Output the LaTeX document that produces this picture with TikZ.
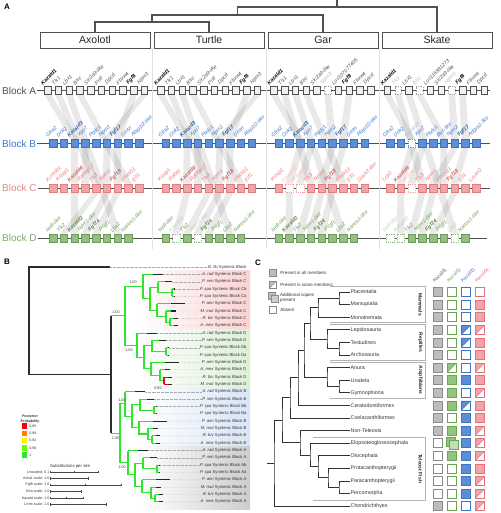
\documentclass[tikz,border=0pt]{standalone}
\usepackage{fontspec}
\setmainfont{Liberation Sans}
\pgfdeclarelayer{back}
\pgfdeclarelayer{mid}
\pgfsetlayers{back,mid,main}
\definecolor{dk}{HTML}{505050}
\definecolor{cB}{HTML}{5B8FD6}
\definecolor{cBd}{HTML}{3C70BE}
\definecolor{tB}{HTML}{3A78C9}
\definecolor{cC}{HTML}{F4A4A6}
\definecolor{cCd}{HTML}{E37C80}
\definecolor{tC}{HTML}{EE6E72}
\definecolor{lC}{HTML}{D98C8C}
\definecolor{cD}{HTML}{93BF80}
\definecolor{cDd}{HTML}{6B9B57}
\definecolor{tD}{HTML}{6A9A55}
\definecolor{lD}{HTML}{7FA86B}
\definecolor{lgreen}{HTML}{2EE62E}
\definecolor{bandC}{HTML}{FAD2D3}
\definecolor{bandD}{HTML}{DCF0D6}
\definecolor{bandB}{HTML}{D8E5F5}
\definecolor{bandA}{HTML}{CDCDCD}
\definecolor{kgray}{HTML}{BDBDBD}
\definecolor{kgrayd}{HTML}{8A8A8A}
\definecolor{kgreen}{HTML}{92C47E}
\definecolor{kgreend}{HTML}{6AA651}
\definecolor{kblue}{HTML}{5A8FD8}
\definecolor{kblued}{HTML}{3D76C6}
\definecolor{kred}{HTML}{F3A2A8}
\definecolor{kredd}{HTML}{E57179}
\tikzset{
  plab/.style={font=\fontsize{8}{9}\selectfont\bfseries, inner sep=0pt},
  sp/.style={draw=dk, fill=white, line width=0.9pt, minimum width=110pt, minimum height=16pt, inner sep=0pt, font=\fontsize{10.5}{12}\selectfont, text=black!85},
  tr/.style={draw=dk, line width=1.1pt},
  sepl/.style={draw=gray!25, line width=0.8pt},
  blk/.style={font=\fontsize{10}{12}\selectfont, anchor=west, inner sep=0pt},
  bline/.style={draw=dk, line width=0.8pt},
  gbox/.style={minimum width=7.5pt, minimum height=8.5pt, inner sep=0pt, line width=0.5pt},
  dsh/.style={dash pattern=on 1pt off 0.8pt},
  boxAn/.style={draw=dk, fill=gray!12, line width=0.55pt, minimum width=6.5pt, minimum height=7.5pt, inner sep=0pt},
  boxAb/.style={boxAn},
  boxAd/.style={boxAn, fill=white, draw=gray!75, dsh},
  boxBn/.style={gbox, fill=cB, draw=cBd}, boxBb/.style={boxBn}, boxBd/.style={gbox, fill=white, draw=cB, dsh},
  boxCn/.style={gbox, fill=cC, draw=cCd}, boxCb/.style={boxCn}, boxCd/.style={gbox, fill=white, draw=cC, dsh},
  boxDn/.style={gbox, fill=cD, draw=cDd}, boxDb/.style={boxDn}, boxDd/.style={gbox, fill=white, draw=cD, dsh},
  glab/.style={rotate=45, anchor=south west, inner sep=0.2pt, font=\fontsize{5.2}{6}\selectfont\itshape},
  gbold/.style={font=\fontsize{5.2}{6}\selectfont\itshape\bfseries},
  labAn/.style={glab, text=dk}, labAb/.style={glab, gbold, text=black}, labAd/.style={glab, text=gray!55},
  labBn/.style={glab, text=tB}, labBb/.style={glab, gbold, text=tB!80!black}, labBd/.style={glab, text=tB!45},
  labCn/.style={glab, text=tC}, labCb/.style={glab, gbold, text=tC!85!black}, labCd/.style={glab, text=tC!45},
  labDn/.style={glab, text=tD}, labDb/.style={glab, gbold, text=tD!85!black}, labDd/.style={glab, text=tD!45},
  ribbon/.style={fill=black, fill opacity=0.085},
  leaf/.style={anchor=east, inner sep=0.3pt, font=\fontsize{4.2}{5}\selectfont, text=black!80},
  pp/.style={inner sep=0pt, font=\fontsize{3.8}{4.5}\selectfont, text=black!75},
  dbr/.style={draw=gray!35!black, line width=1.1pt},
  gbr/.style={draw=lgreen, line width=1.1pt},
  tipbr/.style={draw=black!85, line width=1.1pt},
  leader/.style={draw=gray!65, line width=0.35pt, dash pattern=on 0.4pt off 0.9pt},
  smt/.style={inner sep=0.3pt, font=\fontsize{3.6}{4.3}\selectfont, text=black!80},
  sbar/.style={draw=gray!55!black, line width=0.5pt},
  ctr/.style={draw=gray!40!black, line width=0.9pt},
  tx/.style={anchor=west, inner sep=0.5pt, font=\fontsize{5.3}{6}\selectfont, text=black!80},
  hdr/.style={rotate=45, anchor=south west, inner sep=0.2pt, font=\fontsize{4.8}{5.5}\selectfont},
  grp/.style={rotate=-90, inner sep=0pt, font=\fontsize{5}{6}\selectfont\bfseries, text=black!85},
  gbx/.style={draw=gray!60, line width=0.7pt},
  lgt/.style={anchor=west, inner sep=0.3pt, font=\fontsize{4.5}{5.2}\selectfont, text=black!80, align=left},
  cellbase/.style={minimum size=9pt, inner sep=0pt, line width=0.7pt},
}
\newcommand\mkcells[3]{%
  \tikzset{
    cellF#1/.style={cellbase, fill=#2, draw=#3},
    cellE#1/.style={cellbase, fill=white, draw=#3},
    cellH#1/.style={cellbase, fill=white, draw=#3, path picture={%
      \fill[#2] (path picture bounding box.north west) -- (path picture bounding box.north east) -- (path picture bounding box.south west) -- cycle;
      \draw[#3, line width=0.5pt] (path picture bounding box.south west) -- (path picture bounding box.north east);}},
    cellD#1/.style={cellbase, fill=#2, draw=#3, xshift=-1.4pt, yshift=1.4pt},
  }}
\mkcells{1}{kgray}{kgrayd}
\mkcells{2}{kgreen}{kgreend}
\mkcells{3}{kblue}{kblued}
\mkcells{4}{kred}{kredd}
\newcommand\generow[5]{%
  \foreach [count=\k] \gn/\gs in {#5} {%
    \pgfmathsetmacro\xx{#3+(\k-1)*10.75}%
    \node[box#2\gs] (#1#2\k) at (\xx,#4) {};%
    \node[lab#2\gs] (#1#2l\k) at ([xshift=-1pt,yshift=0.8pt]#1#2\k.north west) {\gn};%
  }%
}
\newcommand\rib[1]{%
  \foreach \u/\v in {#1} {%
    \fill[ribbon] ([xshift=-3.3pt]\u.south) -- ([xshift=3.3pt]\u.south) -- ([xshift=3.8pt]\v.north) -- ([xshift=-3.8pt]\v.north) -- cycle;%
  }%
}
\newcommand\term[5]{%
  \draw[gbr, draw=#5] (#1,#2) -- ({#3},#2);
  \draw[tipbr] ({(#1+#3)/2},#2) -- ({#3},#2);
  \draw[leader] ({#3},#2) -- (l#4.west);
}
\newcommand\cladetree[3]{%
  \pgfmathsetmacro\ya{267+(#1-1)*7.34}
  \pgfmathsetmacro\yb{\ya+7.34}
  \pgfmathsetmacro\yc{\ya+14.68}
  \pgfmathsetmacro\yd{\ya+22.02}
  \pgfmathsetmacro\ye{\ya+29.36}
  \pgfmathsetmacro\yf{\ya+36.7}
  \pgfmathsetmacro\yg{\ya+44.04}
  \pgfmathsetmacro\yh{\ya+51.38}
  \pgfmathsetmacro\yP{(\yc+\yd)/2}
  \pgfmathsetmacro\yGa{(\yb+\yP)/2}
  \pgfmathsetmacro\yS{(\yg+\yh)/2}
  \pgfmathsetmacro\yQ{(\yf+\yS)/2}
  \pgfmathsetmacro\yGb{(\ye+\yQ)/2}
  \pgfmathsetmacro\yI{(\yGa+\yGb)/2}
  \pgfmathsetmacro\yR{(\ya+\yI)/2}
  \pgfmathsetmacro\xI{#2+7}
  \pgfmathsetmacro\xGa{\xI+8}
  \pgfmathsetmacro\xP{\xGa+14}
  \pgfmathsetmacro\xGb{\xI+7}
  \pgfmathsetmacro\xQ{\xGb+9}
  \pgfmathsetmacro\xS{\xQ+4}
  \pgfmathtruncatemacro\na{#1}
  \pgfmathtruncatemacro\nb{#1+1}
  \pgfmathtruncatemacro\nc{#1+2}
  \pgfmathtruncatemacro\nd{#1+3}
  \pgfmathtruncatemacro\ne{#1+4}
  \pgfmathtruncatemacro\nf{#1+5}
  \pgfmathtruncatemacro\ng{#1+6}
  \pgfmathtruncatemacro\nh{#1+7}
  \draw[gbr] (#2,\ya) -- (#2,\yI) -- (\xI,\yI);
  \draw[gbr] (\xGa,\yGa) -- (\xI,\yGa) -- (\xI,\yGb) -- (\xGb,\yGb);
  \draw[gbr] (\xGa,\yb) -- (\xGa,\yP) -- (\xP,\yP);
  \draw[gbr] (\xP,\yc) -- (\xP,\yd);
  \draw[gbr] (\xGb,\ye) -- (\xGb,\yQ) -- (\xQ,\yQ);
  \draw[gbr] (\xQ,\yf) -- (\xQ,\yS) -- (\xS,\yS);
  \draw[gbr, draw=#3] (\xS,\yg) -- (\xS,\yh);
  \term{#2}{\ya}{#2+20}{\na}{lgreen}
  \term{\xGa}{\yb}{\xP}{\nb}{lgreen}
  \term{\xP}{\yc}{\xP+3}{\nc}{lgreen}
  \term{\xP}{\yd}{\xP+3}{\nd}{lgreen}
  \term{\xGb}{\ye}{\xGb+28}{\ne}{lgreen}
  \term{\xQ}{\yf}{\xQ+10}{\nf}{lgreen}
  \term{\xS}{\yg}{\xS+8}{\ng}{#3}
  \term{\xS}{\yh}{\xS+8}{\nh}{#3}
}
\begin{document}
\begin{tikzpicture}[x=1pt,y=-1pt]
\useasboundingbox (0,0) rectangle (500,513);

% ================= Panel A =================
\node[plab] (pA) at (7,7) {A};
\node[sp] (ax) at (95,40) {Axolotl};
\node[sp] (tu) at (209,40) {Turtle};
\node[sp] (ga) at (323,40) {Gar};
\node[sp] (sk) at (437,40) {Skate};
\draw[tr] (ax.north) |- (209,22) -- (tu.north);
\draw[tr] (152,22) |- (323,15) -- (ga.north);
\draw[tr] (237.5,15) |- (437,7) -- (sk.north);
\coordinate (rootA) at (337,0);
\draw[tr] (337,7) -- (rootA);

\draw[sepl] (152.5,48) -- (152.5,249);
\draw[sepl] (266,48) -- (266,249);
\draw[sepl] (379.5,48) -- (379.5,249);

\node[blk, text=dk] (bA) at (2,90.5) {Block A};
\node[blk, text=tB] (bB) at (2,143.5) {Block B};
\node[blk, text=lC] (bC) at (2,188) {Block C};
\node[blk, text=lD] (bD) at (2,238) {Block D};
\begin{pgfonlayer}{mid}
\draw[bline] ([xshift=1pt]bA.east) -- (490,90.5);
\draw[bline] ([xshift=1pt]bB.east) -- (490,143.5);
\draw[bline] ([xshift=1pt]bC.east) -- (490,188);
\draw[bline] ([xshift=1pt]bD.east) -- (487,238);
\end{pgfonlayer}

% Block A
\generow{p1}{A}{47.7}{90.5}{Kazald1/b,Tlx1/n,Lbx1/n,Btrc/n,Slc2a9-like/n,Poll/n,Dpcd/n,Fbxw4/n,Fgf8/b,Npm3/n}
\generow{p2}{A}{160.7}{90.5}{Kazald1/b,Tlx1/n,Lbx1/n,Btrc/n,Slc2a9-like/n,Poll/n,Dpcd/n,Fbxw4/n,Fgf8/b,Npm3/n}
\generow{p3}{A}{274}{90.5}{Kazald1/b,Tlx1/n,Lbx1/n,Btrc/n,Slc2a9-like/n,Npm3/d,Loc107077405/n,Fgf8/b,Fbxw4/n,Dpcd/n}
\generow{p4}{A}{387.3}{90.5}{Kazald1/b,Tlx1/d,Lbx1/n,Btrc/d,Loc116981273/n,Slc2a9-like/n,Npm3/d,Fgf8/b,Fbxw4/n,Dpcd/n}
% Block B
\generow{p1}{B}{53}{143.5}{Gfra2/n,Dok2/n,Kazald3/b,Xpo7/n,Pbdc1/n,Npm2/n,Fgf17/b,Dmtn/n,Afap1l2-like/n}
\generow{p2}{B}{165.5}{143.5}{Gfra2/n,Dok2/n,Kazald3/b,Xpo7/n,Pbdc1/n,Npm2/n,Fgf17/b,Dmtn/n,Afap1l2-like/n}
\generow{p3}{B}{278.5}{143.5}{Gfra2/n,Dok2/n,Kazald3/b,Xpo7/n,Pbdc1/n,Npm2/n,Fgf17/b,Dmtn/n,Afap1l2-like/n}
\generow{p4}{B}{390}{143.5}{Gfra2/n,Dok2/n,Kazald3/d,Xpo7/n,Pbdc1/n,Btrc-like/n,Npm2/n,Fgf17/b,Adgra2-like/n}
% Block C
\generow{p1}{C}{53}{188}{Kcnmb1/n,Kcnip1/n,Kazald4/b,Ranbp17/n,Tlx3/n,Npm1/n,Fgf18/b,Fbxw11/n,Eif1/n}
\generow{p2}{C}{165.5}{188}{Kcnip1/n,Gabrp/n,Kazald4/b,Ranbp17/n,Tlx3/n,Npm1/n,Fgf18/b,Fbxw11/n,Eif1/n}
\generow{p3}{C}{278.5}{188}{Kcnip1/n,Kazald4/d,Ranbp17/d,Tlx3/n,Npm1/n,Fgf18/b,Fbxw11/n,Eif1/n,Dock2-like/n}
\generow{p4}{C}{390}{188}{Lcp2/n,Kazald4/b,Ranbp17/d,Tlx3/n,Npm1/n,Fbxw11/n,Fgf18/b,Eif1/n,Lman2/n}
% Block D
\generow{p1}{D}{53}{238}{Nefl-like/n,Tlx2/n,Kazald2/b,Npm1-like/n,Fgf24/b,Pcgf1/n,Lbx2/n,Nanos1-like/n}
\generow{p2}{D}{165.5}{238}{Nefl-like/n,Kazald2/d,Tlx2/n,Npm1-like/d,Fgf24/b,Pcgf1/n,Lbx2/n,Nanos1-like/n}
\generow{p3}{D}{278.5}{238}{Nefl-like/n,Kazald2/b,Tlx2/n,Npm1-like/n,Fgf24/b,Pcgf1/n,Lbx2/n,Nanos1-like/n}
\generow{p4}{D}{390}{238}{Nefl-like/d,Kazald2/d,Tlx2/n,Npm1-like/n,Fgf24/b,Pcgf1/n,Lbx2/d,Nanos1-like/n}

\begin{pgfonlayer}{back}
\rib{p1A1/p1B3,p1B3/p1C3,p1C3/p1D3,p1A2/p1C5,p1C5/p1D2,p1A3/p1D7,p1A4/p1C8,p1A9/p1B7,p1B7/p1C7,p1C7/p1D5,p1A10/p1B6,p1B6/p1C6,p1C6/p1D4,p1B4/p1C4}
\rib{p2A1/p2B3,p2B3/p2C3,p2C3/p2D2,p2A2/p2C5,p2C5/p2D3,p2A3/p2D7,p2A4/p2C8,p2A9/p2B7,p2B7/p2C7,p2C7/p2D5,p2A10/p2B6,p2B6/p2C6,p2C6/p2D4,p2B4/p2C4}
\rib{p3A1/p3B3,p3B3/p3C2,p3C2/p3D2,p3A2/p3C4,p3C4/p3D3,p3A3/p3D7,p3A4/p3C7,p3A8/p3B7,p3B7/p3C6,p3C6/p3D5,p3A6/p3B6,p3B6/p3C5,p3C5/p3D4,p3B4/p3C3}
\rib{p4A1/p4B3,p4B3/p4C2,p4C2/p4D2,p4A2/p4C4,p4C4/p4D3,p4A3/p4D7,p4A4/p4B6,p4B6/p4C6,p4A8/p4B8,p4B8/p4C7,p4C7/p4D5,p4A7/p4B7,p4B7/p4C5,p4C5/p4D4,p4B4/p4C3}
\end{pgfonlayer}

% ================= Panel B =================
\node[plab] (pB) at (7,262) {B};
\begin{pgfonlayer}{back}
\shade[left color=white, right color=bandC] (140,270.7) rectangle (250,329.4);
\shade[left color=white, right color=bandD] (140,329.4) rectangle (250,388.1);
\shade[left color=white, right color=bandB] (140,388.1) rectangle (250,446.8);
\shade[left color=white, right color=bandA] (140,446.8) rectangle (250,509);
\end{pgfonlayer}
\foreach [count=\k] \sa/\sb in {B. flo/{},A. rad/C,P. sen/C,P. spa/Cb,P. spa/Ca,P. ann/C,M. mut/C,R. biv/C,A. mex/C,A. rad/D,P. sen/D,P. spa/Db,P. spa/Da,P. ann/D,A. mex/D,R. biv/D,M. mut/D,A. rad/B,P. sen/B,P. spa/Bb,P. spa/Ba,P. ann/B,M. mut/B,R. biv/B,A. mex/B,A. rad/A,P. sen/A,P. spa/Ab,P. spa/Aa,P. ann/A,M. mut/A,R. biv/A,A. mex/A}
  \node[leaf] (l\k) at (247,{267+(\k-1)*7.34}) {\textit{\sa} Syntenic Block \sb};

\cladetree{2}{143}{lgreen}
\let\yRC\yR
\cladetree{10}{137}{red}
\let\yRD\yR
\cladetree{18}{125}{lgreen}
\let\yRB\yR
\cladetree{26}{128}{lgreen}
\let\yRA\yR
\pgfmathsetmacro\yCD{(\yRC+\yRD)/2}
\pgfmathsetmacro\yBA{(\yRB+\yRA)/2}
\pgfmathsetmacro\yNo{(\yCD+\yBA)/2}
\draw[dbr] (110,267) -- (29,267) -- (29,\yNo) -- (111,\yNo);
\draw[dbr] (111,\yCD) -- (111,\yBA);
\draw[leader] (110,267) -- (l1.west);
\draw[gbr] (111,\yCD) -- (125,\yCD);
\draw[gbr] (143,\yRC) -- (125,\yRC) -- (125,\yRD) -- (137,\yRD);
\draw[gbr] (111,\yBA) -- (120,\yBA);
\draw[gbr] (125,\yRB) -- (120,\yRB) -- (120,\yRA) -- (128,\yRA);

\node[pp] (pp1) at (133,282.5) {1.00};
\node[pp] (pp2) at (116,312.5) {1.00};
\node[pp] (pp3) at (129,350) {1.00};
\node[pp] (pp4) at (158,388) {0.85};
\node[pp] (pp5) at (122,400.5) {1.00};
\node[pp] (pp6) at (115.5,438) {1.00};
\node[pp] (pp7) at (122,467.5) {1.00};

% legend posterior
\node[smt, font=\fontsize{3.6}{4.2}\selectfont\bfseries, align=center] (ppt) at (30,419) {Posterior\\Probability};
\foreach [count=\i] \cc/\vv in {red/0.85,orange/0.89,yellow/0.92,{green!60!yellow}/0.96,lgreen/1} {
  \node[minimum width=4.5pt, minimum height=5.5pt, inner sep=0pt, fill=\cc] (ppb\i) at (24.5,{426+(\i-1)*7.3}) {};
  \node[smt, anchor=west] (ppl\i) at ([xshift=2pt]ppb\i.east) {\vv};
}
\node[smt, font=\fontsize{4.3}{5}\selectfont] (spst) at (70,466) {Substitutions per site};
\foreach [count=\i] \lab/\len in {Unscaled: 0.1/48,Adra1 scale: 1.0/38,Fgf8 scale: 1.0/71,Gfra scale: 1.0/31,Kazald scale: 1.0/33,Lrrtm scale: 1.0/56} {
  \node[smt, anchor=east] (sc\i) at (50,{472+(\i-1)*6.5}) {\lab};
  \draw[sbar] (sc\i.east) -- ++(\len,0);
  \draw[sbar] ([yshift=1.2pt]sc\i.east) -- ([yshift=-1.2pt]sc\i.east);
  \draw[sbar] ([xshift=\len pt, yshift=1.2pt]sc\i.east) -- ([xshift=\len pt, yshift=-1.2pt]sc\i.east);
  \draw[sbar] ([xshift=\len pt/2, yshift=0.8pt]sc\i.east) -- ([xshift=\len pt/2, yshift=-0.8pt]sc\i.east);
}

% ================= Panel C =================
\node[plab] (pC) at (258,263) {C};
\node[cellF1, minimum size=7pt] (lg1) at (273,273) {};
\node[lgt] (lgt1) at ([xshift=3pt]lg1.east) {Present in all members};
\node[cellH1, minimum size=7pt] (lg2) at (273,284.5) {};
\node[lgt] (lgt2) at ([xshift=3pt]lg2.east) {Present in some members};
\node[cellF1, minimum size=7pt] (lg3a) at (271.5,295.5) {};
\node[cellF1, minimum size=7pt, fill=kgray!75] (lg3b) at (274.5,298.5) {};
\node[lgt, anchor=north west, font=\fontsize{4.5}{4.8}\selectfont] (lgt3) at (279.5,292.8) {Additional copies\\present};
\node[cellE1, minimum size=7pt] (lg4) at (273,309.5) {};
\node[lgt] (lgt4) at ([xshift=3pt]lg4.east) {Absent};

\node[hdr, text=gray!70!black] (h1) at (435,283) {Kazald1};
\node[hdr, text=kgreend] (h2) at (449,283) {Kazald2};
\node[hdr, text=kblued] (h3) at (463,283) {Kazald3};
\node[hdr, text=kredd] (h4) at (477,283) {Kazald4};

\foreach [count=\r] \n in {Placentalia,Marsupialia,Monotremata,Lepidosauria,Testudines,Archosauria,Anura,Urodela,Gymnophiona,Ceratodontiformes,Coelacanthiformes,Non-Teleosts,Elopsoteoglossocephala,Otocephala,Protacanthopterygii,Paracanthopterygii,Percomorpha,Chondrichthyes}
  \node[tx] (t\r) at (350,{292+(\r-1)*12.6}) {\n};

\draw[gbx] (330,286.5) -- (425,286.5) -- (425,322.5) -- (330,322.5);
\draw[gbx] (330,324.5) -- (425,324.5) -- (425,360.5) -- (330,360.5);
\draw[gbx] (330,362.5) -- (425,362.5) -- (425,398) -- (330,398);
\draw[gbx] (313,437.5) -- (425,437.5) -- (425,500) -- (313,500);
\node[grp] (g1) at (420.5,304.5) {Mammals};
\node[grp] (g2) at (420.5,342.5) {Reptiles};
\node[grp] (g3) at (420.5,380.2) {Amphibians};
\node[grp] (g4) at (420.5,468.7) {Teleost Fish};

\draw[ctr] (t1.west) -| (339,298.3) |- (t2.west);
\draw[ctr] (339,298.3) -| (318,307.75) |- (t3.west);
\draw[ctr] (t5.west) -| (339,348.7) |- (t6.west);
\draw[ctr] (t4.west) -| (327,339.25) |- (339,348.7);
\draw[ctr] (318,307.75) -| (310,323.5) |- (327,339.25);
\draw[ctr] (t8.west) -| (339,386.5) |- (t9.west);
\draw[ctr] (t7.west) -| (327,377.05) |- (339,386.5);
\draw[ctr] (310,323.5) -| (304,350.3) |- (327,377.05);
\draw[ctr] (304,350.3) -| (298,377.85) |- (t10.west);
\draw[ctr] (298,377.85) -| (290,397.9) |- (t11.west);
\draw[ctr] (t16.west) -| (339,487.3) |- (t17.west);
\draw[ctr] (t15.west) -| (328,477.85) |- (339,487.3);
\draw[ctr] (t14.west) -| (318,466.8) |- (328,477.85);
\draw[ctr] (t13.west) -| (310,455) |- (318,466.8);
\draw[ctr] (t12.west) -| (300,442.8) |- (310,455);
\draw[ctr] (290,397.9) -| (282,420.35) |- (300,442.8);
\draw[ctr] (282,420.35) -| (274,463.3) |- (t18.west);
\coordinate (rootC) at (267,463.3);
\draw[ctr] (274,463.3) -- (rootC);

\foreach [count=\r] \row in {{F,E,E,E},{F,E,E,F},{F,E,E,F},{F,E,H,H},{F,E,H,F},{F,E,E,F},{F,H,E,H},{F,F,F,F},{F,F,E,H},{F,F,H,F},{F,E,F,F},{F,F,F,H},{E,D,F,H},{E,F,F,H},{E,E,F,F},{E,E,F,H},{E,E,F,H},{F,E,E,H}} {
  \foreach [count=\c] \cs in \row {
    \node[cell\cs\c] (c\r-\c) at ({424+\c*14},{292+(\r-1)*12.6}) {};
  }
}
\node[cellF2, fill=kgreen!55] (c13-2b) at (453.4,444.6) {};
\end{tikzpicture}
\end{document}
